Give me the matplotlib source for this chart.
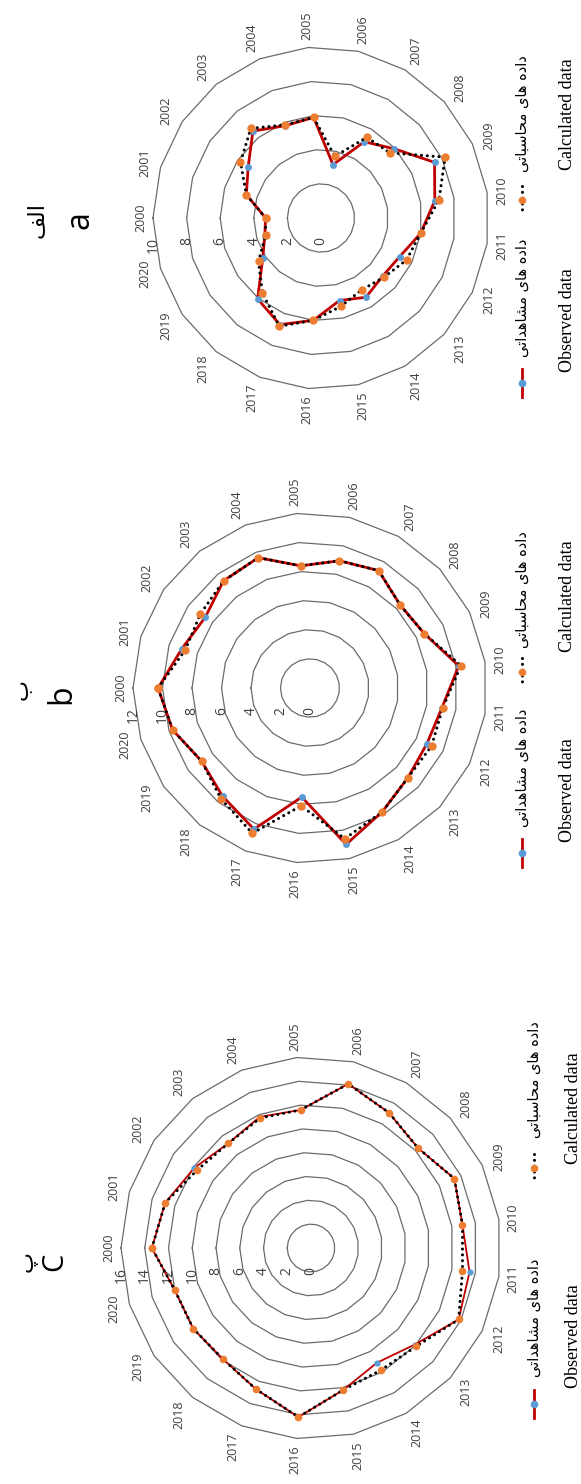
import numpy as np
import matplotlib.pyplot as plt
from matplotlib.lines import Line2D

W, H = 581, 1484

years = [str(y) for y in range(2000, 2021)]

# panel a
obs_a = [3.3, 4.65, 5.25, 6.5, 5.8, 5.9, 3.2, 5.15, 5.95, 7.5, 6.85, 6.0, 5.2, 5.0, 5.35, 4.95, 6.0, 6.7, 6.05, 4.2, 3.5]
calc_a = [3.3, 4.65, 5.8, 6.7, 5.85, 5.9, 3.7, 5.45, 5.6, 8.2, 7.1, 6.0, 5.65, 5.1, 4.85, 5.3, 6.0, 6.8, 5.6, 4.5, 3.45]
ticks_a = [0, 2, 4, 6, 8, 10]

# panel b
obs_b = [10.3, 9.1, 8.6, 9.4, 9.6, 8.4, 8.95, 9.3, 8.35, 8.6, 10.2, 9.05, 8.8, 9.05, 9.8, 11.0, 7.5, 10.4, 9.5, 8.9, 9.75]
calc_b = [10.3, 8.85, 9.0, 9.4, 9.6, 8.4, 8.95, 9.3, 8.35, 8.6, 10.35, 9.1, 9.15, 9.05, 9.8, 10.6, 8.1, 10.7, 9.7, 8.9, 9.75]
ticks_b = [0, 2, 4, 6, 8, 10, 12]

# panel c
obs_c = [13.4, 12.85, 11.9, 11.2, 11.8, 11.6, 14.1, 13.1, 12.3, 13.4, 12.9, 13.5, 13.8, 11.9, 11.1, 12.2, 14.2, 12.7, 11.9, 12.0, 12.0]
calc_c = [13.4, 12.85, 11.6, 11.2, 11.7, 11.6, 14.1, 13.1, 12.3, 13.4, 12.9, 12.9, 13.8, 12.1, 11.8, 12.2, 14.2, 12.7, 11.9, 12.0, 12.0]
ticks_c = [0, 2, 4, 6, 8, 10, 12, 14, 16]

# persian legend text in presentation forms (no shaping engine in matplotlib)
fa_observed = "\ufef0\ufe97\ufe8d\ufeaa\ufeeb\ufe8e\ufeb8\ufee3 \ufeef\ufe8e\ufeeb \ufee9\ufea9\ufe8d\ufea9"
fa_calculated = "\ufef0\ufe97\ufe8e\ufe92\ufeb3\ufe8e\ufea4\ufee3 \ufeef\ufe8e\ufeeb \ufee9\ufea9\ufe8d\ufea9"
en_observed = "Observed data"
en_calculated = "Calculated data"

RED = '#C00000'
BLUE = '#5B9BD5'
ORANGE = '#ED7D31'
GRID = '#6b6b6b'

fig = plt.figure(figsize=(W / 100, H / 100), dpi=100)


def fx(x):
    return x / W


def fy(y):
    return 1 - y / H


def radar(cx, cy, rx, ry, obs, calc, ticks, obs_lw=2.0, ms_obs=5, ms_calc=6):
    ax = fig.add_axes([fx(cx - rx), fy(cy + ry), 2 * rx / W, 2 * ry / H], projection='polar')
    ax.set_aspect('auto')
    ax.set_theta_zero_location('W')
    ax.set_theta_direction(-1)
    ax.set_ylim(0, ticks[-1])
    ax.axis('off')

    n = len(years)
    theta = np.linspace(0, 2 * np.pi, n, endpoint=False)
    tc = np.append(theta, theta[0])

    # polygon gridlines
    for t in ticks[1:]:
        ax.plot(tc, [t] * (n + 1), color=GRID, lw=0.9, zorder=1, clip_on=False)

    # radial tick labels along the first spoke
    for t in ticks:
        ax.annotate(str(t), (0, t), xytext=(0, -14), textcoords='offset points',
                    rotation=90, ha='center', va='top', fontsize=10,
                    family='Open Sans', color='#404040')

    # category labels outside the outer ring
    w, h, pad = 10, 22, 4
    for k, lab in enumerate(years):
        dx, dy = -np.cos(theta[k]), np.sin(theta[k])
        s = pad + abs(dx) * w / 2 + abs(dy) * h / 2
        ax.annotate(lab, (theta[k], ticks[-1]), xytext=(dx * s, dy * s),
                    textcoords='offset points', rotation=90, ha='center', va='center',
                    fontsize=9, family='Open Sans', color='#404040')

    ax.plot(tc, obs + obs[:1], color=RED, lw=obs_lw, marker='o', ms=ms_obs,
            mfc=BLUE, mec=BLUE, mew=0, zorder=3, clip_on=False)
    ax.plot(tc, calc + calc[:1], color='black', lw=2.2, ls=(0, (0.01, 1.9)),
            dash_capstyle='round', marker='o', ms=ms_calc, mfc=ORANGE, mec=ORANGE,
            mew=0, zorder=4, clip_on=False)
    return ax


def legend(cx, cy, offs, x_key=522, x_en=567):
    obs_key, obs_fa, obs_en, calc_key, calc_fa, calc_en = offs
    for y, col, ls, lw, mc in [(cy + obs_key, RED, '-', 2.0, BLUE),
                               (cy + calc_key, 'black', (0, (0.01, 1.9)), 2.2, ORANGE)]:
        fig.add_artist(Line2D([fx(x_key)] * 2, [fy(y - 14), fy(y + 14)], color=col, ls=ls,
                              lw=lw, dash_capstyle='round', transform=fig.transFigure))
        fig.add_artist(Line2D([fx(x_key)], [fy(y)], ls='none', marker='o', ms=5.5,
                              mfc=mc, mec=mc, mew=0, transform=fig.transFigure))
    fig.text(fx(x_key), fy(cy + obs_fa), fa_observed, rotation=90, ha='center', va='center',
             fontsize=10.5, family='DejaVu Sans')
    fig.text(fx(x_key), fy(cy + calc_fa), fa_calculated, rotation=90, ha='center', va='center',
             fontsize=10.5, family='DejaVu Sans')
    fig.text(fx(x_en), fy(cy + obs_en), en_observed, rotation=90, ha='center', va='center',
             fontsize=13, family='Liberation Serif')
    fig.text(fx(x_en), fy(cy + calc_en), en_calculated, rotation=90, ha='center', va='center',
             fontsize=13, family='Liberation Serif')


# a
radar(321, 218, 168, 171, obs_a, calc_a, ticks_a)
legend(321, 218, (165, 80, 102, -18, -104, -104))
fig.text(fx(37), fy(220), "\ufed2\ufedf\ufe8d", rotation=90, ha='center', va='center',
         fontsize=16, family='DejaVu Sans')
fig.text(fx(80), fy(220), "a", rotation=90, ha='center', va='center', fontsize=23,
         family='Open Sans')

# b
radar(310, 688, 177, 175, obs_b, calc_b, ticks_b)
legend(310, 688, (165, 80, 102, -16, -98, -92))
fig.text(fx(22), fy(690), "\u0628", rotation=90, ha='center', va='center',
         fontsize=16, family='DejaVu Sans')
fig.text(fx(62), fy(694), "b", rotation=90, ha='center', va='center', fontsize=23,
         family='Open Sans')

# c
radar(311, 1248, 190, 191, obs_c, calc_c, ticks_c, obs_lw=1.3, ms_obs=4.5, ms_calc=5.5)
legend(311, 1248, (156, 70, 88, -80, -168, -140), x_key=534, x_en=574)
fig.text(fx(28), fy(1262), "\u067e", rotation=90, ha='center', va='center',
         fontsize=16, family='DejaVu Sans')
fig.text(fx(55), fy(1262), "C", rotation=90, ha='center', va='center', fontsize=21,
         family='Open Sans')

fig.savefig('out.png', dpi=100)
